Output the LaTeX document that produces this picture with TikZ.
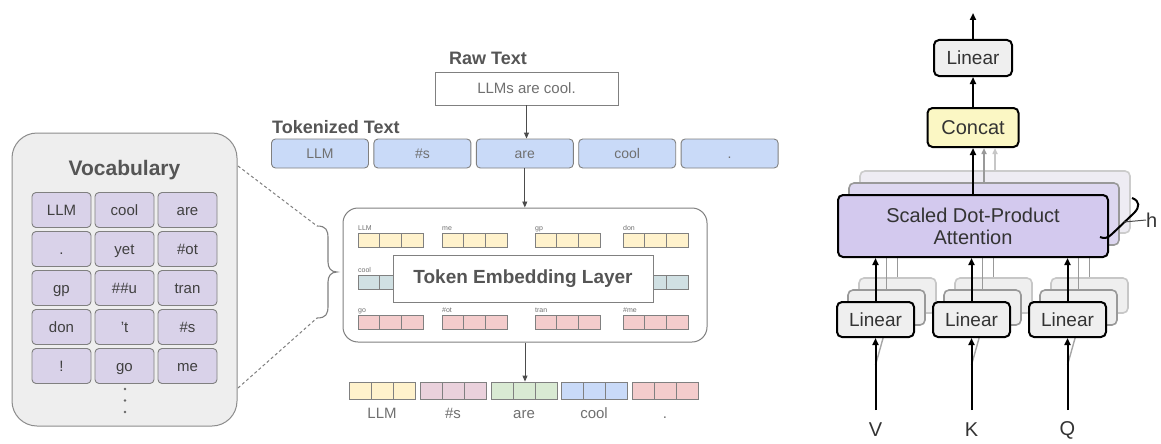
\documentclass[tikz,border=0pt]{standalone}
\usepackage{fontspec}
\setmainfont{Liberation Sans}
\usetikzlibrary{arrows.meta,calc}

\definecolor{edgegray}{HTML}{808080}
\definecolor{txtgray}{HTML}{707070}
\definecolor{headgray}{HTML}{555555}
\definecolor{vocabbg}{HTML}{EEEEEE}
\definecolor{vocabcell}{HTML}{D9D2E9}
\definecolor{tokblue}{HTML}{C9DAF8}
\definecolor{vyellow}{HTML}{FFF2CC}
\definecolor{vteal}{HTML}{D0E0E3}
\definecolor{vpink}{HTML}{F4CCCC}
\definecolor{vmauve}{HTML}{EAD1DC}
\definecolor{vgreen}{HTML}{D9EAD3}
\definecolor{linfill}{HTML}{EFEFEF}
\definecolor{catfill}{HTML}{FBF7C4}
\definecolor{attfill}{HTML}{D3C9EE}
\definecolor{attback}{HTML}{DDD7F0}
\definecolor{attbacktwo}{HTML}{EEECF3}

% font size given in points, leading equal to size
\newcommand\pxfont[1]{\fontsize{#1}{#1}\selectfont}

% three-cell embedding vector: name, left x, centre y, cell width, height, fill
\newcommand\embvec[6]{%
  \foreach \j in {0,1,2}{%
    \node[veccell, fill=#6, minimum width=#4, minimum height=#5] (#1-\j) at ({#2+#4*(\j+0.5)},#3) {};
  }}

\tikzset{
  vbox/.style={draw=edgegray, line width=0.9pt, inner sep=0pt, rounded corners=4pt},
  vcell/.style={vbox, fill=vocabcell, minimum width=59pt, minimum height=35pt, text=black!75,
                font=\pxfont{15}, text height=10.7pt, text depth=0pt},
  tokbox/.style={vbox, fill=tokblue, minimum width=97pt, minimum height=29pt, text=txtgray,
                font=\pxfont{14}, text height=10pt, text depth=0pt},
  veccell/.style={draw=edgegray, line width=0.8pt, inner sep=0pt},
  heading/.style={text=headgray, font=\bfseries\pxfont{18}, inner sep=0pt},
  veclbl/.style={anchor=base west, inner sep=0pt, font=\pxfont{7}, text=txtgray},
  outlbl/.style={inner sep=0pt, font=\pxfont{15}, text=txtgray, text height=10.7pt, text depth=0pt},
  larrow/.style={draw=black!70, line width=0.9pt, -{Triangle[length=6pt,width=5pt]}},
  rbox/.style={draw=black, line width=2pt, rounded corners=5pt, inner sep=0pt, font=\pxfont{19}, text=black!80},
  linbox/.style={rbox, fill=linfill, minimum width=77pt, minimum height=35pt},
  linback/.style={draw=black!40, fill=linfill, line width=1.6pt, rounded corners=5pt, inner sep=0pt, minimum width=77pt, minimum height=35pt},
  linbacktwo/.style={linback, draw=black!22},
  rarrow/.style={draw=black, line width=2pt, -{Triangle[length=7pt,width=6pt]}},
  rgray/.style={draw=black!40, line width=1.6pt, -{Triangle[length=6pt,width=5pt]}},
  rgraytwo/.style={rgray, draw=black!22},
  rline/.style={draw=black!40, line width=1.6pt},
  qlbl/.style={font=\pxfont{20}, text=black!80, inner sep=0pt}
}

\begin{document}
\begin{tikzpicture}[x=1pt,y=-1pt]
\fill[white] (0,0) rectangle (1161,444);
\useasboundingbox (0,0) rectangle (1161,444);

%---------------- vocabulary panel ----------------
\node[draw=black!45, fill=vocabbg, line width=1pt, rounded corners=25pt,
      minimum width=225pt, minimum height=293pt, inner sep=0pt] (vocab) at (124.5,279.5) {};
\node[text=headgray, font=\bfseries\pxfont{21}, inner sep=0pt] (vtitle) at (124.5,170) {Vocabulary};

\node[vcell] (c11) at (61.5,210) {LLM};
\node[vcell] (c12) at (124.5,210) {cool};
\node[vcell] (c13) at (187.5,210) {are};
\node[vcell] (c21) at (61.5,249) {.};
\node[vcell] (c22) at (124.5,249) {yet};
\node[vcell] (c23) at (187.5,249) {\#ot};
\node[vcell] (c31) at (61.5,288) {gp};
\node[vcell] (c32) at (124.5,288) {\#\#u};
\node[vcell] (c33) at (187.5,288) {tran};
\node[vcell] (c41) at (61.5,327) {don};
\node[vcell] (c42) at (124.5,327) {'t};
\node[vcell] (c43) at (187.5,327) {\#s};
\node[vcell] (c51) at (61.5,366) {!};
\node[vcell] (c52) at (124.5,366) {go};
\node[vcell] (c53) at (187.5,366) {me};
\foreach \yy in {389,400.5,412} \fill[black!60] (125,\yy) circle (1.4);

% zoom lines and brace towards the embedding layer
\coordinate (vA) at (238,166);
\coordinate (vB) at (238,388);
\coordinate (braceT) at (317,226);
\coordinate (braceB) at (317,318);
\draw[edgegray, line width=1pt, dash pattern=on 3pt off 2.5pt] (vA) -- (braceT);
\draw[edgegray, line width=1pt, dash pattern=on 3pt off 2.5pt] (vB) -- (braceB);
\draw[edgegray, line width=1.1pt] (braceT) .. controls (326,226) and (328,230) .. (328,238)
  -- (328,262) .. controls (328,268) and (331,272) .. (337,272)
  .. controls (331,272) and (328,276) .. (328,282)
  -- (328,306) .. controls (328,314) and (326,318) .. (braceB);

%---------------- raw and tokenized text ----------------
\node[heading] (rawlbl) at (488,58) {Raw Text};
\node[draw=edgegray, line width=0.9pt, fill=white, minimum width=183pt, minimum height=33pt,
      inner sep=0pt, text=txtgray, font=\pxfont{15}] (raw) at (526.5,88.5) {LLMs are cool.};
\node[heading, anchor=west] (toklbl) at (272,127) {Tokenized Text};

\node[tokbox] (tok1) at (320,153.5) {LLM};
\node[tokbox] (tok2) at (422.4,153.5) {\#s};
\node[tokbox] (tok3) at (524.8,153.5) {are};
\node[tokbox] (tok4) at (627.2,153.5) {cool};
\node[tokbox] (tok5) at (729.6,153.5) {.};

\draw[larrow] (raw.south) -- (raw.south |- tok3.north);

%---------------- token embedding layer ----------------
\node[draw=edgegray, line width=1pt, rounded corners=15pt, minimum width=364pt,
      minimum height=134pt, inner sep=0pt, fill=white] (embed) at (525,275) {};
\draw[larrow] (tok3.south) -- (tok3.south |- embed.north);

\embvec{ya}{358}{240}{21.7}{14}{vyellow}
\embvec{yb}{442}{240}{21.7}{14}{vyellow}
\embvec{yc}{535}{240}{21.7}{14}{vyellow}
\embvec{yd}{623}{240}{21.7}{14}{vyellow}
\embvec{ta}{358}{282}{21.7}{14}{vteal}
\embvec{tb}{442}{282}{21.7}{14}{vteal}
\embvec{tc}{535}{282}{21.7}{14}{vteal}
\embvec{td}{623}{282}{21.7}{14}{vteal}
\embvec{pa}{358}{322}{21.7}{14}{vpink}
\embvec{pb}{442}{322}{21.7}{14}{vpink}
\embvec{pc}{535}{322}{21.7}{14}{vpink}
\embvec{pd}{623}{322}{21.7}{14}{vpink}

\node[veclbl] (lya) at (358,230) {LLM};
\node[veclbl] (lyb) at (442,230) {me};
\node[veclbl] (lyc) at (535,230) {gp};
\node[veclbl] (lyd) at (623,230) {don};
\node[veclbl] (lta) at (358,272) {cool};
\node[veclbl] (lpa) at (358,312) {go};
\node[veclbl] (lpb) at (442,312) {\#ot};
\node[veclbl] (lpc) at (535,312) {tran};
\node[veclbl] (lpd) at (623,312) {\#me};

\node[draw=edgegray, fill=white, line width=0.9pt, minimum width=260pt, minimum height=47pt,
      inner sep=0pt, text=headgray, font=\bfseries\pxfont{19}] (tel) at (523,278.5) {Token Embedding Layer};

%---------------- output embeddings ----------------
\embvec{oa}{349}{390.5}{22}{17}{vyellow}
\embvec{ob}{420}{390.5}{22}{17}{vmauve}
\embvec{oc}{491}{390.5}{22}{17}{vgreen}
\embvec{od}{561}{390.5}{22}{17}{tokblue}
\embvec{oe}{632}{390.5}{22}{17}{vpink}
\draw[larrow] (embed.south) -- (embed.south |- oc-1.north);

\node[outlbl] (loa) at (382,413) {LLM};
\node[outlbl] (lob) at (453,413) {\#s};
\node[outlbl] (loc) at (524,413) {are};
\node[outlbl] (lod) at (594,413) {cool};
\node[outlbl] (loe) at (665,413) {.};

%---------------- multi-head attention ----------------
% stacked heads behind the front one
\node[draw=black!20, fill=attbacktwo, line width=1.6pt, rounded corners=5pt, inner sep=0pt,
      minimum width=270pt, minimum height=62pt] (att2) at (995,202) {};
\node[draw=black!40, fill=attback, line width=1.6pt, rounded corners=5pt, inner sep=0pt,
      minimum width=270pt, minimum height=62pt] (att1) at (984,214) {};

% linear projections, back copies first
\foreach \nm/\xx in {V/875.5,K/971.5,Q/1067.5}{
  \node[linbacktwo] (lin\nm2) at (\xx+22,295.5) {};
  \node[linback] (lin\nm1) at (\xx+11,307.5) {};
}
\foreach \nm in {V,K,Q}{
  \draw[rline] (lin\nm2.north) -- (lin\nm2.north |- att1.south);
  \draw[rline] (lin\nm1.north) -- (lin\nm1.north |- att1.south);
}

\node[rbox, fill=attfill, minimum width=270pt, minimum height=62pt, align=center,
      font=\pxfont{20}] (att) at (973,226) {Scaled Dot-Product\\[2pt]Attention};

% inputs
\coordinate (srcV) at (875.5,410);
\coordinate (srcK) at (971.5,410);
\coordinate (srcQ) at (1067.5,410);
\foreach \nm in {V,K,Q}{
  \draw[draw=black!35, line width=1.4pt] ($(src\nm)+(0,-45)$) -- (lin\nm1.south);
}
\node[linbox] (linV) at (875.5,319.5) {Linear};
\node[linbox] (linK) at (971.5,319.5) {Linear};
\node[linbox] (linQ) at (1067.5,319.5) {Linear};
\foreach \nm in {V,K,Q}{
  \draw[rarrow] (src\nm) -- (lin\nm.south);
  \draw[rarrow] (lin\nm.north) -- (lin\nm.north |- att.south);
}
\node[qlbl] (qV) at (875.5,430) {V};
\node[qlbl] (qK) at (971.5,430) {K};
\node[qlbl] (qQ) at (1067.5,430) {Q};

% concat and output projection
\node[rbox, fill=catfill, minimum width=91pt, minimum height=39pt, font=\pxfont{20}] (concat) at (973,127.5) {Concat};
\node[rbox, fill=linfill, minimum width=78pt, minimum height=36pt] (lintop) at (973,58) {Linear};
\coordinate (outTop) at (973,13);

\draw[rgraytwo] (att2.north) -- (att2.north |- concat.south);
\draw[rgray] (att1.north) -- (att1.north |- concat.south);
\draw[rarrow] (att.north) -- (concat.south);
\draw[rarrow] (concat.north) -- (lintop.south);
\draw[rarrow] (lintop.north) -- (outTop);

% head count marker
\coordinate (hTop) at (1132,198);
\coordinate (hBot) at (1100,237);
\coordinate (hTick) at (1124,222);
\draw[black, line width=2pt] (hTop) .. controls (1140,201) and (1140,207) .. (1134,213)
  -- (1112,234) .. controls (1108,238) and (1104,239) .. (hBot);
\node[font=\pxfont{20}, text=black!80, inner sep=0pt, anchor=west] (hlbl) at (1146,220) {h};
\draw[black!70, line width=1pt] (hTick) -- (hlbl.west);
\end{tikzpicture}
\end{document}
